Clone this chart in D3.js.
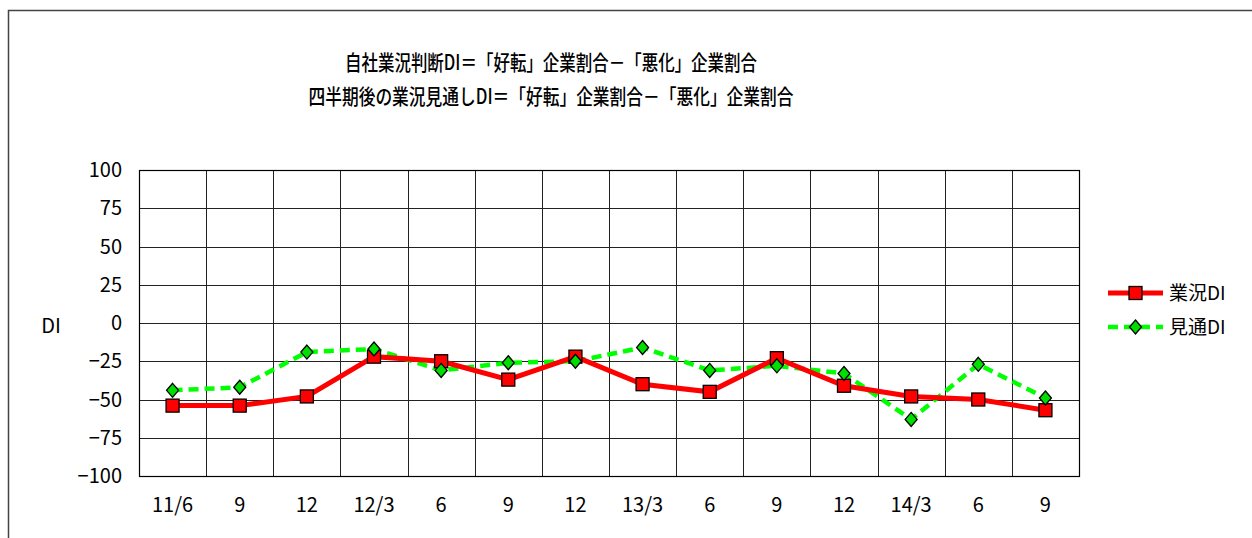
<!DOCTYPE html>
<html>
<head>
<meta charset="utf-8">
<script src="https://cdn.jsdelivr.net/npm/d3@7"></script>
<style>
  body { margin: 0; background: #fff; }
  text { font-family: "Liberation Sans Narrow", "Noto Sans CJK JP", sans-serif; fill: #000; }
</style>
</head>
<body>
<div id="chart"></div>
<script>
var categories = ['11/6', '9', '12', '12/3', '6', '9', '12', '13/3', '6', '9', '12', '14/3', '6', '9'];
var gyokyoDI = [-54, -54, -48, -22, -25, -37, -22, -40, -45, -23, -41, -48, -50, -57];
var mitooshiDI = [-44, -42, -19, -17, -31, -26, -25, -16, -31, -28, -33, -63, -27, -49];
var yTicks = [100, 75, 50, 25, 0, -25, -50, -75, -100];
var seriesNames = ['業況DI', '見通DI'];
var titleLines = ['自社業況判断DI＝「好転」企業割合－「悪化」企業割合', '四半期後の業況見通しDI＝「好転」企業割合－「悪化」企業割合'];

const width = 1252;
const height = 538;
const plotL = 139, plotR = 1079, plotT = 170, plotB = 476;

const svg = d3.select('#chart')
    .append('svg')
    .attr('width', width)
    .attr('height', height);

// outer frame
svg.append('rect')
    .attr('x', 8.5).attr('y', 10.5)
    .attr('width', 1400).attr('height', 700)
    .attr('fill', 'none').attr('stroke', '#444').attr('stroke-width', 1.5);

var x = d3.scaleBand()
    .domain(d3.range(categories.length))
    .range([plotL, plotR]);

var y = d3.scaleLinear()
    .domain([-100, 100])
    .range([plotB, plotT]);

// grid
svg.append('g')
    .selectAll('line')
    .data(yTicks)
    .enter()
    .append('line')
    .attr('x1', plotL).attr('x2', plotR)
    .attr('y1', function(d) { return Math.round(y(d)) + 0.5; })
    .attr('y2', function(d) { return Math.round(y(d)) + 0.5; })
    .attr('stroke', '#222').attr('stroke-width', 1);

svg.append('g')
    .selectAll('line')
    .data(d3.range(categories.length + 1))
    .enter()
    .append('line')
    .attr('x1', function(d) { return Math.round(plotL + d * x.step()) + 0.5; })
    .attr('x2', function(d) { return Math.round(plotL + d * x.step()) + 0.5; })
    .attr('y1', plotT).attr('y2', plotB)
    .attr('stroke', '#222').attr('stroke-width', 1);

svg.append('rect')
    .attr('x', plotL + 0.5).attr('y', plotT + 0.5)
    .attr('width', plotR - plotL).attr('height', plotB - plotT)
    .attr('fill', 'none').attr('stroke', '#000').attr('stroke-width', 1.2);

// y tick labels
svg.append('g')
    .selectAll('text')
    .data(yTicks)
    .enter()
    .append('text')
    .attr('x', 122)
    .attr('y', function(d) { return y(d) + 7; })
    .attr('text-anchor', 'end')
    .style('font-size', '20px')
    .text(function(d) { return d < 0 ? '−' + Math.abs(d) : d; });

// x labels
svg.append('g')
    .selectAll('text')
    .data(categories)
    .enter()
    .append('text')
    .attr('x', function(d, i) { return x(i) + x.bandwidth() / 2; })
    .attr('y', 512)
    .attr('text-anchor', 'middle')
    .style('font-size', '20px')
    .text(function(d) { return d; });

svg.append('text')
    .attr('x', 51).attr('y', 333)
    .attr('text-anchor', 'middle')
    .style('font-size', '20px')
    .text('DI');

// title (squeezed to the reference width)
var titleW = [412, 485];
svg.selectAll('.title')
    .data(titleLines)
    .enter()
    .append('text')
    .attr('class', 'title')
    .attr('x', function(d, i) { return 551 - titleW[i] / 2; })
    .attr('y', function(d, i) { return 70 + i * 34; })
    .attr('textLength', function(d, i) { return titleW[i]; })
    .attr('lengthAdjust', 'spacingAndGlyphs')
    .style('font-size', '21px')
    .style('font-weight', 500)
    .text(function(d) { return d; });

var line = d3.line()
    .x(function(d, i) { return x(i) + x.bandwidth() / 2; })
    .y(function(d) { return y(d); });

svg.append('path')
    .datum(mitooshiDI)
    .attr('d', line)
    .attr('fill', 'none')
    .attr('stroke', '#00ff00')
    .attr('stroke-width', 4.5)
    .attr('stroke-dasharray', '10,6');

svg.append('path')
    .datum(gyokyoDI)
    .attr('d', line)
    .attr('fill', 'none')
    .attr('stroke', '#ff0000')
    .attr('stroke-width', 5);

svg.append('g')
    .selectAll('rect')
    .data(gyokyoDI)
    .enter()
    .append('rect')
    .attr('x', function(d, i) { return x(i) + x.bandwidth() / 2 - 6.5; })
    .attr('y', function(d) { return y(d) - 6.5; })
    .attr('width', 13).attr('height', 13)
    .attr('fill', '#ff0000')
    .attr('stroke', '#000').attr('stroke-width', 1.3);

var diamond = 'M0,-7L6,0L0,7L-6,0Z';

svg.append('g')
    .selectAll('path')
    .data(mitooshiDI)
    .enter()
    .append('path')
    .attr('d', diamond)
    .attr('transform', function(d, i) { return 'translate(' + (x(i) + x.bandwidth() / 2) + ',' + y(d) + ')'; })
    .attr('fill', '#00dd00')
    .attr('stroke', '#000').attr('stroke-width', 1.3);

// legend
var legend = svg.append('g');
var legY = [293, 327];

legend.append('line')
    .attr('x1', 1108).attr('x2', 1163).attr('y1', legY[0]).attr('y2', legY[0])
    .attr('stroke', '#ff0000').attr('stroke-width', 5);
legend.append('rect')
    .attr('x', 1129).attr('y', legY[0] - 6.5).attr('width', 13).attr('height', 13)
    .attr('fill', '#ff0000').attr('stroke', '#000').attr('stroke-width', 1.3);

legend.append('line')
    .attr('x1', 1108).attr('x2', 1163).attr('y1', legY[1]).attr('y2', legY[1])
    .attr('stroke', '#00ff00').attr('stroke-width', 4.5).attr('stroke-dasharray', '10,6');
legend.append('path')
    .attr('d', diamond)
    .attr('transform', 'translate(1135.5,' + legY[1] + ')')
    .attr('fill', '#00dd00').attr('stroke', '#000').attr('stroke-width', 1.3);

legend.selectAll('text')
    .data(seriesNames)
    .enter()
    .append('text')
    .attr('x', 1169)
    .attr('y', function(d, i) { return legY[i] + 7; })
    .style('font-size', '19px')
    .text(function(d) { return d; });
</script>
</body>
</html>
